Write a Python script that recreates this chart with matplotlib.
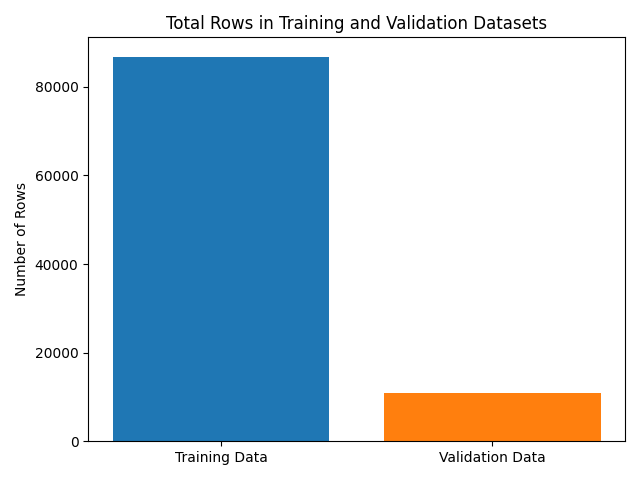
import matplotlib
matplotlib.use("Agg")
import matplotlib.pyplot as plt

categories = ["Training Data", "Validation Data"]
rows = [86821, 10850]

fig, ax = plt.subplots(figsize=(6.4, 4.8), dpi=100)
ax.bar(categories, rows, color=["#1f77b4", "#ff7f0e"])
ax.set_ylabel("Number of Rows")
ax.set_title("Total Rows in Training and Validation Datasets")
fig.tight_layout()
fig.savefig("out.png")
